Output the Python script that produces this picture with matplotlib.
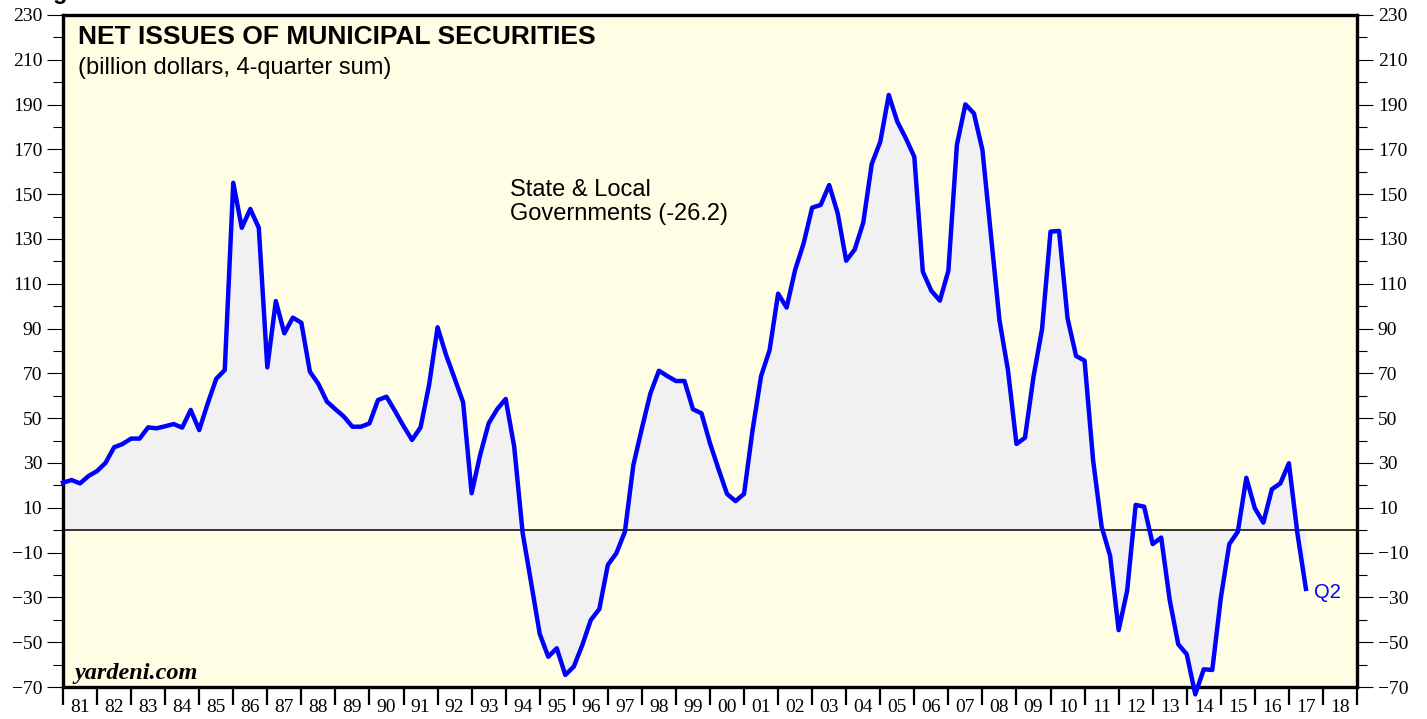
import numpy as np
import pandas as pd
import matplotlib
matplotlib.use('Agg')
import matplotlib.pyplot as plt
from matplotlib.ticker import MultipleLocator, FixedLocator, NullFormatter

# net issues of municipal securities, billion $, 4-quarter sum (1980Q4 .. 2017Q2)
quarters = pd.period_range('1980Q4', '2017Q2', freq='Q')
net_issues = [
    21.2, 22.4, 20.9, 24.2, 26.4, 30.1, 37.0, 38.5, 40.9, 40.9,
    45.9, 45.5, 46.4, 47.4, 45.8, 53.7, 44.7, 56.6, 67.6, 71.5,
    155.1, 135.0, 143.4, 135.0, 72.7, 102.3, 87.9, 94.9, 92.6, 70.8,
    65.3, 57.4, 54.0, 50.7, 46.2, 46.2, 47.7, 58.1, 59.6, 53.2,
    46.5, 40.3, 45.9, 64.8, 90.6, 78.2, 67.8, 57.1, 16.5, 33.6,
    47.7, 54.0, 58.6, 37.3, -1.4, -23.7, -46.3, -56.5, -52.7, -64.6,
    -60.9, -51.3, -40.1, -35.2, -15.5, -10.3, -0.7, 29.1, 45.5, 61.1,
    71.2, 68.8, 66.6, 66.6, 54.0, 52.2, 38.8, 27.3, 16.2, 13.0,
    16.2, 44.7, 68.8, 80.4, 105.6, 99.4, 116.2, 128.1, 144.0, 145.2,
    154.1, 141.5, 120.3, 125.3, 137.3, 163.5, 173.4, 194.3, 182.4, 175.0,
    166.7, 115.4, 106.9, 102.5, 115.8, 172.0, 190.1, 186.1, 169.8, 132.0,
    93.8, 71.5, 38.5, 41.3, 68.5, 89.7, 133.3, 133.6, 94.6, 77.8,
    75.7, 31.3, 1.6, -11.5, -44.6, -27.1, 11.3, 10.5, -6.2, -3.3,
    -31.2, -50.9, -55.4, -73.3, -62.1, -62.4, -30.4, -6.2, -0.7, 23.4,
    9.8, 3.4, 18.3, 20.9, 29.9, -1.4, -26.2,
]
years = list(range(1981, 2019))
year_labels = [f"{y % 100:02d}" for y in years]
ymin, ymax = -70, 230

# plot each quarter at the end of the quarter
x = np.array([q.year + q.quarter / 4 for q in quarters])
vals = np.array(net_issues)

fig = plt.figure(figsize=(14.27, 7.19), dpi=100)
ax = fig.add_axes([63 / 1427, 1 - 687 / 719, 1294 / 1427, 672 / 719])
ax.set_facecolor('#fffee4')

ax.fill_between(x, vals, 0, color='#f1f1f1', lw=0)
ax.axhline(0, color='black', lw=1.1)
ax.plot(x, vals, color='#0000ff', lw=3.2, clip_on=False, zorder=5)

ax.set_xlim(1981, 2019)
ax.set_ylim(ymin, ymax)

# y axis, both sides
ax.yaxis.set_major_locator(MultipleLocator(20, offset=10))
ax.yaxis.set_minor_locator(MultipleLocator(10))
ax.tick_params(axis='y', which='major', direction='out', length=11.5, width=0.8,
               labelsize=14, pad=3.5, left=True, right=True, labelleft=True, labelright=True)
ax.tick_params(axis='y', which='minor', direction='out', length=7, width=0.8,
               left=True, right=True)
for lab in ax.get_yticklabels():
    lab.set_family('Liberation Serif')

# x axis: ticks at year starts, labels at mid-year
ax.xaxis.set_major_locator(FixedLocator(years + [2019]))
ax.xaxis.set_major_formatter(NullFormatter())
ax.xaxis.set_minor_locator(FixedLocator([y + 0.5 for y in years]))
ax.set_xticklabels(year_labels, minor=True, family='Liberation Serif', fontsize=14)
ax.tick_params(axis='x', which='major', direction='out', length=13, width=1.6)
ax.tick_params(axis='x', which='minor', length=0, pad=9)

for s in ax.spines.values():
    s.set_linewidth(2.4)

ax.text(0.0116, 0.985, 'NET ISSUES OF MUNICIPAL SECURITIES', transform=ax.transAxes,
        family='Liberation Sans', fontsize=19, fontweight='bold', va='top')
ax.text(0.0116, 0.937, '(billion dollars, 4-quarter sum)', transform=ax.transAxes,
        family='Liberation Sans', fontsize=17, va='top')
ax.text(1994.13, 157, 'State & Local\nGovernments (-26.2)', family='Liberation Sans',
        fontsize=17, va='top', linespacing=1.12)
ax.text(x[-1] + 0.25, vals[-1] - 1.5, 'Q2', color='#0000ff', family='Liberation Sans',
        fontsize=14.5, va='center')
ax.text(0.009, 0.004, 'yardeni.com', transform=ax.transAxes, family='Liberation Serif',
        fontsize=17.5, fontweight='bold', style='italic', va='bottom')

# cut-off caption above the chart, only the descender shows
fig.text(32 / 1427, 1 + 1 / 719, 'Figure', family='Liberation Sans', fontsize=17,
         fontweight='bold', va='baseline')

fig.savefig('out.png', dpi=100)
